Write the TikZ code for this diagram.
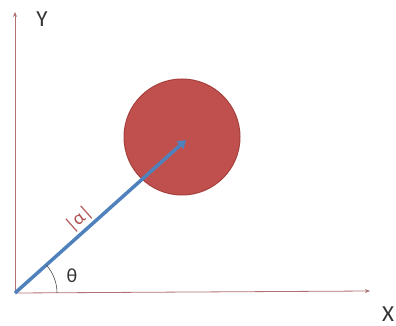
\documentclass[tikz,border=0pt]{standalone}
\usepackage{fontspec}
\setmainfont{Carlito}
\usetikzlibrary{arrows.meta,calc}
\definecolor{axisc}{HTML}{B07070}
\definecolor{ballc}{HTML}{C0504D}
\definecolor{ballb}{HTML}{A5403D}
\definecolor{vecc}{HTML}{4F81BD}
\definecolor{lblc}{HTML}{B05050}
\tikzset{
  axis/.style={draw=axisc, line width=0.8pt, -{Stealth[length=5pt,width=4pt]}},
  vec/.style={draw=vecc, line width=3.5pt, -{Triangle[length=8pt,width=10pt]}},
  lbl/.style={font=\fontsize{23}{23}\selectfont, text=black!80, inner sep=0pt}
}
\begin{document}
\begin{tikzpicture}[x=1pt,y=-1pt]
\useasboundingbox (0,0) rectangle (396,326);
\coordinate (O) at (15,293);
\coordinate (Ytop) at (15,12);
\coordinate (Xend) at (370,291);
\node[circle, fill=ballc, draw=ballb, line width=1pt, minimum size=116pt, inner sep=0pt] (ball) at (182,137) {};
\draw[axis] (O) -- (Ytop);
\draw[axis] (O) -- (Xend);
\coordinate (tip) at (186,140);
\draw[vec] (O) -- (tip);
\coordinate (arcstart) at ($(O)+(42,0)$);
\draw[black!70, line width=0.6pt] (arcstart) arc[start angle=0, end angle=-41.6, radius=42];
\node[lbl] (ylab) at (42,19) {Y};
\node[lbl] (xlab) at (388,314) {X};
\node[lbl, font=\fontsize{20}{20}\selectfont] (th) at (72,276) {θ};
\node[lbl, text=lblc, font=\fontsize{19}{19}\selectfont, rotate=41.6] (mag) at (79,219) {|α|};
\end{tikzpicture}
\end{document}
